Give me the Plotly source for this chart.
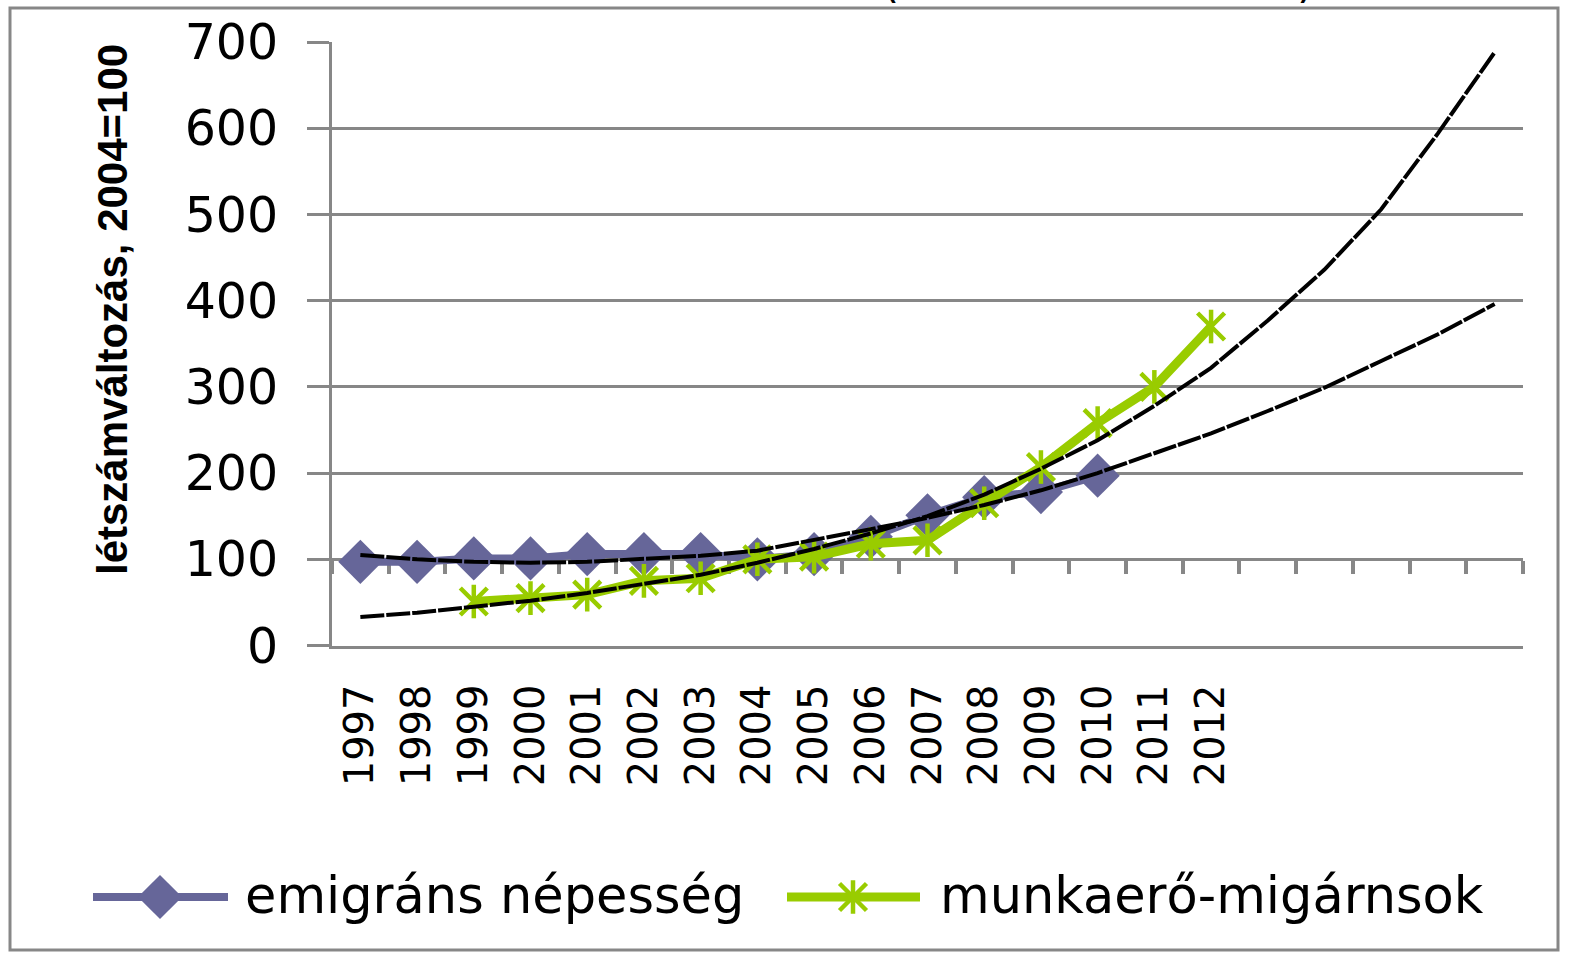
import plotly.graph_objects as go

# ---------------- data ----------------
years = ["1997", "1998", "1999", "2000", "2001", "2002", "2003", "2004", "2005",
         "2006", "2007", "2008", "2009", "2010", "2011", "2012", "2013", "2014",
         "2015", "2016", "2017"]
tick_labels = ["1997", "1998", "1999", "2000", "2001", "2002", "2003", "2004",
               "2005", "2006", "2007", "2008", "2009", "2010", "2011", "2012",
               "", "", "", "", ""]

emig_years = ["1997", "1998", "1999", "2000", "2001", "2002", "2003", "2004",
              "2005", "2006", "2007", "2008", "2009", "2010"]
emig_values = [97, 97, 101, 101, 106, 106, 106, 100, 106, 126, 151, 172, 178, 197]

labour_years = ["1999", "2000", "2001", "2002", "2003", "2004", "2005", "2006",
                "2007", "2008", "2009", "2010", "2011", "2012"]
labour_values = [51, 55, 59, 75, 78, 100, 103, 118, 122, 165, 207, 258, 300, 370]

# trendlines (1997-2017)
emig_trend = [105, 100, 97, 96, 97, 100, 104, 110, 122, 135, 148, 163, 180, 200,
              223, 246, 272, 299, 330, 361, 396]
labour_trend = [33, 38, 45, 52, 61, 71, 82, 96, 112, 130, 150, 175, 205, 238,
                278, 322, 377, 436, 506, 594, 688]

y_ticks = [0, 100, 200, 300, 400, 500, 600, 700]
y_title = "létszámváltozás, 2004=100"
names = ["emigráns népesség", "munkaerő-migárnsok"]

# ---------------- style ----------------
W, H = 1569, 953
PURPLE = "#666699"
GREEN = "#99CC00"
GREY = "#878787"
FONT = "DejaVu Sans, Verdana, sans-serif"
TITLE_FONT = "Liberation Sans, Arial, sans-serif"

X_DOM = [332 / W, 1523 / W]
Y_DOM = [1 - 645.5 / H, 1 - 42 / H]
Y_MAX = 700
cross_val = 100
cross_pos = Y_DOM[0] + (Y_DOM[1] - Y_DOM[0]) * cross_val / Y_MAX

DIAMOND = [("diamond", 34)]
STAR = [("x-thin-open", 27), ("line-ns-open", 24)]   # excel style star

fig = go.Figure()

# emigrant population
fig.add_trace(go.Scatter(
    x=emig_years, y=emig_values, mode="lines", name=names[0],
    line=dict(color=PURPLE, width=8), showlegend=False))
for sym, sz in DIAMOND:
    fig.add_trace(go.Scatter(
        x=emig_years, y=emig_values, mode="markers",
        marker=dict(symbol=sym, size=sz, color=PURPLE, line=dict(width=0)),
        showlegend=False, hoverinfo="skip"))

# labour migrants
fig.add_trace(go.Scatter(
    x=labour_years, y=labour_values, mode="lines", name=names[1],
    line=dict(color=GREEN, width=9), showlegend=False))
for sym, sz in STAR:
    fig.add_trace(go.Scatter(
        x=labour_years, y=labour_values, mode="markers",
        marker=dict(symbol=sym, size=sz, color=GREEN,
                    line=dict(width=4.5, color=GREEN)),
        showlegend=False, hoverinfo="skip"))

# trendlines (on overlay axis x2 which also carries the crossing axis at 100)
for tr in (emig_trend, labour_trend):
    fig.add_trace(go.Scatter(
        x=years, y=tr, mode="lines", xaxis="x2", yaxis="y",
        line=dict(color="black", width=4, dash="24px,2px"),
        showlegend=False, hoverinfo="skip"))

# ---------------- custom legend (in its own pixel-scaled axes) ----------------
LEG_Y = 897
leg_items = [
    dict(x0=93, x1=228, xm=160, tx=243, color=PURPLE, marks=DIAMOND, lw=0, w=8),
    dict(x0=787, x1=920, xm=853, tx=938, color=GREEN, marks=STAR, lw=4.5, w=9),
]
for item, nm in zip(leg_items, names):
    fig.add_trace(go.Scatter(
        x=[item["x0"], item["x1"]], y=[LEG_Y, LEG_Y], mode="lines",
        xaxis="x3", yaxis="y3", line=dict(color=item["color"], width=item["w"]),
        showlegend=False, hoverinfo="skip"))
    for s, sz in item["marks"]:
        fig.add_trace(go.Scatter(
            x=[item["xm"]], y=[LEG_Y], mode="markers", xaxis="x3", yaxis="y3",
            marker=dict(symbol=s, size=sz, color=item["color"],
                        line=dict(width=item["lw"], color=item["color"])),
            showlegend=False, hoverinfo="skip"))
    fig.add_annotation(x=item["tx"], y=LEG_Y - 2, xref="x3", yref="y3",
                       text=nm, showarrow=False, xanchor="left", yanchor="middle",
                       font=dict(family=FONT, size=51, color="black"))

# ---------------- layout ----------------
fig.update_layout(
    width=W, height=H,
    margin=dict(l=0, r=0, t=0, b=0, pad=0),
    paper_bgcolor="white", plot_bgcolor="rgba(0,0,0,0)",
    showlegend=False,
    xaxis=dict(
        domain=X_DOM, anchor="y", type="category",
        categoryorder="array", categoryarray=years,
        range=[-0.5, len(years) - 0.5],
        tickmode="array", tickvals=years, ticktext=tick_labels,
        tickangle=-90, ticks="", ticklabelstandoff=20,
        tickfont=dict(family=FONT, size=40, color="black"),
        showline=True, linecolor=GREY, linewidth=3,
        showgrid=False, zeroline=False, automargin=False, fixedrange=True),
    xaxis2=dict(
        domain=X_DOM, overlaying="x", anchor="free", position=cross_pos,
        type="category", categoryorder="array", categoryarray=years,
        range=[-0.5, len(years) - 0.5],
        tickson="boundaries", ticks="outside", ticklen=13, tickwidth=4,
        tickcolor=GREY, showticklabels=False,
        showline=True, linecolor=GREY, linewidth=3, layer="below traces",
        showgrid=False, zeroline=False, automargin=False, fixedrange=True),
    yaxis=dict(
        domain=Y_DOM, anchor="x", range=[0, Y_MAX],
        tickmode="array", tickvals=y_ticks,
        ticks="outside", ticklen=22, tickwidth=3, tickcolor=GREY,
        ticklabelstandoff=19,
        tickfont=dict(family=FONT, size=49, color="black"),
        showline=True, linecolor=GREY, linewidth=3,
        showgrid=True, gridcolor=GREY, gridwidth=3,
        zeroline=False, automargin=False, fixedrange=True),
    xaxis3=dict(domain=[0, 1], anchor="y3", range=[0, W], visible=False,
                fixedrange=True),
    yaxis3=dict(domain=[0, 0.12], anchor="x3", range=[H, H * (1 - 0.12)],
                visible=False, fixedrange=True),
)

# y-axis title
fig.add_annotation(x=112 / W, y=1 - 310 / H, xref="paper", yref="paper",
                   text=f"<b>{y_title}</b>", textangle=-90, showarrow=False,
                   xanchor="center", yanchor="middle",
                   font=dict(family=TITLE_FONT, size=42, color="black"))

# remnants of the (cropped) title: bottoms of the parentheses
for px, ch in ((891, "("), (1305, ")")):
    fig.add_annotation(x=px / W, y=1 - 9 / H, xref="paper", yref="paper",
                       text=ch, showarrow=False, xanchor="center", yanchor="bottom",
                       font=dict(family=FONT, size=44, color="black"))

# chart border
fig.add_shape(type="rect", xref="paper", yref="paper",
              x0=10 / W, x1=1558 / W, y0=1 - 950 / H, y1=1 - 8 / H,
              line=dict(color=GREY, width=3), fillcolor="rgba(0,0,0,0)", layer="below")

fig.write_html("out.html", config={"displayModeBar": False},
               post_script="document.body.style.margin='0px';")
